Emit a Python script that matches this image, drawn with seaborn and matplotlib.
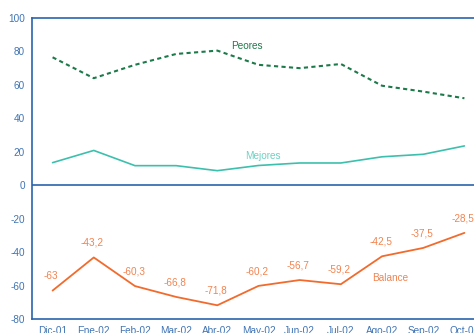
import matplotlib
matplotlib.use("Agg")
import matplotlib.pyplot as plt
import seaborn as sns
import pandas as pd

months = ["Dic-01", "Ene-02", "Feb-02", "Mar-02", "Abr-02", "May-02",
          "Jun-02", "Jul-02", "Ago-02", "Sep-02", "Oct-02"]
peores = [76.5, 64.0, 72.0, 78.5, 80.5, 72.0, 70.0, 72.5, 59.5, 56.0, 52.0]
mejores = [13.5, 20.8, 11.7, 11.7, 8.7, 11.8, 13.3, 13.3, 17.0, 18.5, 23.5]
balance = [-63, -43.2, -60.3, -66.8, -71.8, -60.2, -56.7, -59.2, -42.5, -37.5, -28.5]
y_ticks = [-80, -60, -40, -20, 0, 20, 40, 60, 80, 100]

df = pd.DataFrame({"x": range(len(months)), "mes": months,
                   "Peores": peores, "Mejores": mejores, "Balance": balance})

sns.set_style("white")
plt.rcParams["font.family"] = ["Liberation Sans", "DejaVu Sans"]

AXIS = "#2a64ad"
TICK_TXT = "#3f74b5"
GREEN = "#1d7a4a"
TEAL = "#3cc0ad"
ORANGE = "#f26b2c"
ORANGE_TXT = "#f2834f"
FS = 7.2

fig = plt.figure(figsize=(4.74, 3.33), dpi=100)
ax = fig.add_axes([32 / 474, 14 / 333, 453 / 474, 301 / 333])

sns.lineplot(data=df, x="x", y="Peores", ax=ax, color=GREEN, lw=1.5,
             linestyle=(0, (2, 1.6)))
sns.lineplot(data=df, x="x", y="Mejores", ax=ax, color=TEAL, lw=1.2)
sns.lineplot(data=df, x="x", y="Balance", ax=ax, color=ORANGE, lw=1.3)

for i, v in enumerate(balance):
    ax.annotate(f"{v:g}".replace(".", ","), (i, v), xytext=(-1, 7),
                textcoords="offset points", ha="center", va="bottom",
                color=ORANGE_TXT, fontsize=FS)

ax.text(4.72, 80.5, "Peores", color=GREEN, fontsize=FS, ha="center", va="bottom")
ax.text(5.1, 14.2, "Mejores", color="#6dd1c3", fontsize=FS, ha="center", va="bottom")
ax.text(8.2, -58.5, "Balance", color=ORANGE_TXT, fontsize=FS, ha="center", va="bottom")

ax.axhline(0, color=AXIS, lw=1.2, zorder=1)

ax.set_xlim(-0.5, 10.5)
ax.set_ylim(-80, 100)
ax.set_yticks(y_ticks)
ax.set_yticklabels([str(t) for t in y_ticks], color=TICK_TXT, fontsize=FS)

# tick marks between months, labels centred under each month
ax.set_xticks([i + 0.5 for i in range(len(months))])
ax.set_xticklabels([])
ax.set_xticks(range(len(months)), minor=True)
ax.set_xticklabels(months, minor=True, color=TICK_TXT, fontsize=FS)
ax.tick_params(axis="x", which="major", direction="out", length=4, width=1,
               color=AXIS)
ax.tick_params(axis="x", which="minor", length=0, pad=5)
ax.tick_params(axis="y", direction="out", length=3, width=1, color=AXIS, pad=2)

ax.set_xlabel("")
ax.set_ylabel("")
for side in ["left", "bottom", "top"]:
    ax.spines[side].set_color(AXIS)
    ax.spines[side].set_linewidth(1.2)
ax.spines["right"].set_visible(False)

fig.savefig("out.png", dpi=100)
